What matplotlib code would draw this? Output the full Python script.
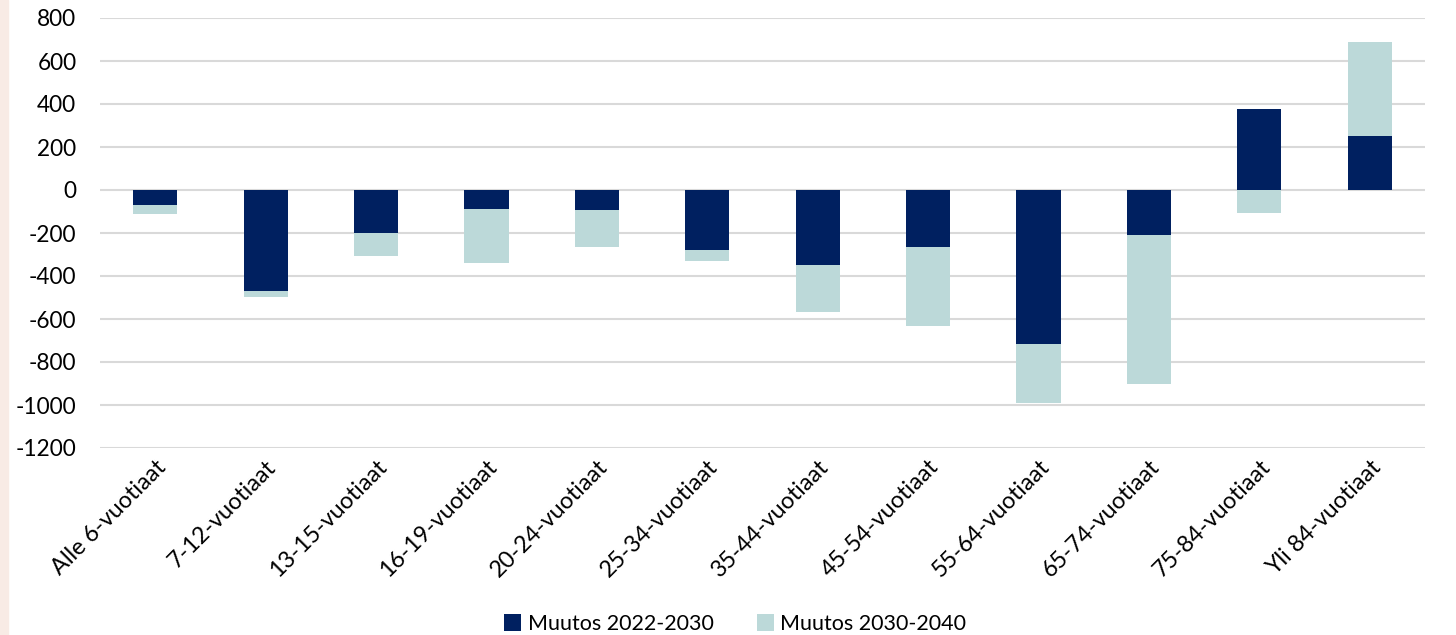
import numpy as np
import matplotlib.pyplot as plt
from matplotlib.patches import Rectangle

plt.rcParams['font.family'] = ['Lato', 'DejaVu Sans']

# Ikäryhmät ja muutokset
categories = ['Alle 6-vuotiaat', '7-12-vuotiaat', '13-15-vuotiaat', '16-19-vuotiaat',
              '20-24-vuotiaat', '25-34-vuotiaat', '35-44-vuotiaat', '45-54-vuotiaat',
              '55-64-vuotiaat', '65-74-vuotiaat', '75-84-vuotiaat', 'Yli 84-vuotiaat']
muutos_2022_2030 = [-70, -470, -200, -88, -93, -280, -349, -265, -715, -209, 377, 251]
muutos_2030_2040 = [-42, -28, -107, -252, -172, -49, -218, -367, -277, -693, -107, 437]
yticks = [800, 600, 400, 200, 0, -200, -400, -600, -800, -1000, -1200]

dark = '#002060'
light = '#BCD9D9'

a = np.array(muutos_2022_2030)
b = np.array(muutos_2030_2040)
# Excel-tyylinen pinoaminen: positiiviset ylös, negatiiviset alas
bottom_b = np.where(np.sign(a) == np.sign(b), a, 0)

fig = plt.figure(figsize=(14.56, 6.35), dpi=100)
fig.patches.append(Rectangle((0, 0), 8 / 1456, 1, transform=fig.transFigure,
                             color='#F8EBE5', zorder=0))
ax = fig.add_axes([100 / 1456, 1 - 448 / 635, 1325 / 1456, 430 / 635])

x = np.arange(len(categories))
ax.bar(x, a, width=0.4, color=dark, label='Muutos 2022-2030', zorder=3)
ax.bar(x, b, width=0.4, bottom=bottom_b, color=light, label='Muutos 2030-2040', zorder=3)

ax.set_xlim(-0.5, len(categories) - 0.5)
ax.set_ylim(-1200, 800)
ax.set_yticks(yticks)
ax.set_yticklabels([str(t) for t in yticks], fontsize=16.3)
ax.yaxis.grid(True, color='#D9D9D9', linewidth=1.5, zorder=0)
ax.tick_params(axis='y', length=0, pad=17)
ax.tick_params(axis='x', length=0, pad=6)
ax.set_xticks(x)
ax.set_xticklabels(categories, rotation=45, ha='right', rotation_mode='anchor', fontsize=16.8)
for s in ax.spines.values():
    s.set_visible(False)

fig.legend(loc='center', bbox_to_anchor=(0.505, 0.017), ncol=2, frameon=False,
           fontsize=15.5, handlelength=0.8, handleheight=0.8, handletextpad=0.3,
           columnspacing=2.0)

fig.savefig('out.png', dpi=100)
